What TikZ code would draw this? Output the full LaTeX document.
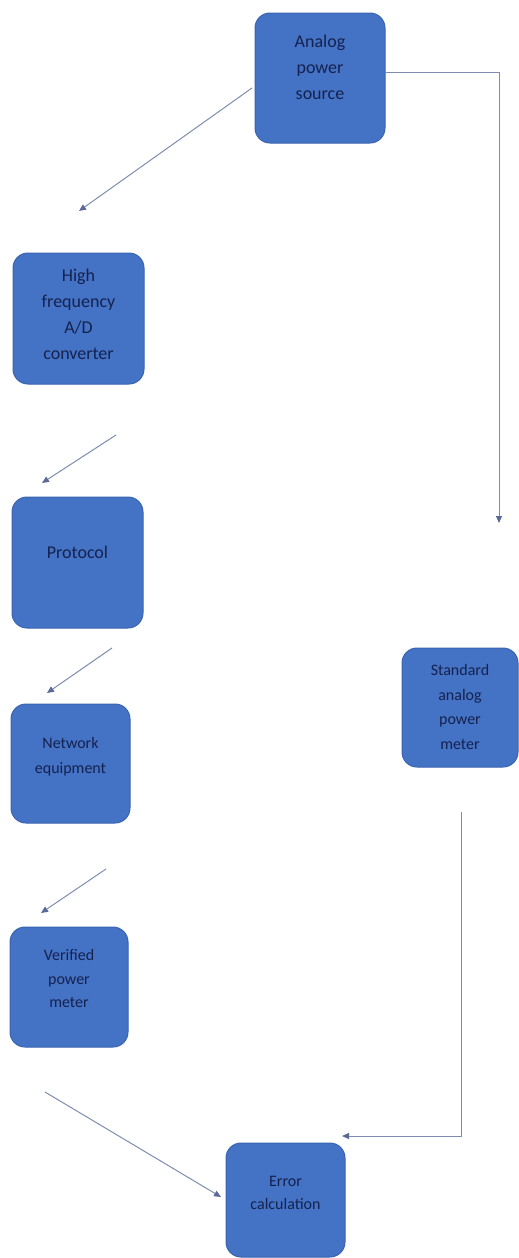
\documentclass[tikz,border=0pt]{standalone}
\usepackage{fontspec}
\setmainfont{Carlito}
\usetikzlibrary{arrows.meta}
\definecolor{boxfill}{HTML}{4472C4}
\definecolor{boxline}{HTML}{3A64B0}
\definecolor{txt}{HTML}{15224F}
\definecolor{conn}{HTML}{7E8DAE}
\definecolor{tipc}{HTML}{5A6898}
\tikzset{
  blk/.style={draw=boxline, line width=1pt, fill=boxfill, rounded corners=15pt, inner sep=0pt},
  lbl/.style={text=txt, align=center, inner sep=0pt, anchor=north},
  conn/.style={draw=conn, line width=1pt, -{Triangle[length=7pt,width=6pt,fill=tipc,color=tipc]}}
}
\begin{document}
\begin{tikzpicture}[x=1pt,y=-1pt]
\useasboundingbox (0,0) rectangle (519,1258);
% boxes
\node[blk, minimum width=130pt, minimum height=130pt] (aps) at (320,78) {};
\node[blk, minimum width=131pt, minimum height=131pt] (adc) at (78.5,318.5) {};
\node[blk, minimum width=131pt, minimum height=131pt] (pro) at (77.5,562.5) {};
\node[blk, minimum width=119pt, minimum height=119pt] (net) at (70.5,763.5) {};
\node[blk, minimum width=116pt, minimum height=119pt] (sap) at (460,707.5) {};
\node[blk, minimum width=118pt, minimum height=120pt] (vpm) at (69,987) {};
\node[blk, minimum width=119pt, minimum height=114pt] (err) at (285.5,1200) {};
% labels
\node[lbl, font=\fontsize{18}{26}\selectfont] (taps) at ([yshift=-22pt]aps.north) {Analog\\power\\source};
\node[lbl, font=\fontsize{18}{26}\selectfont] (tadc) at ([yshift=-16pt]adc.north) {High\\frequency\\A/D\\converter};
\node[lbl, font=\fontsize{18}{26}\selectfont] (tpro) at ([yshift=-49pt]pro.north) {Protocol};
\node[lbl, font=\fontsize{16}{25}\selectfont] (tnet) at ([yshift=-34pt]net.north) {Network\\equipment};
\node[lbl, font=\fontsize{16}{24.5}\selectfont] (tsap) at ([yshift=-17pt]sap.north) {Standard\\analog\\power\\meter};
\node[lbl, font=\fontsize{16}{23.5}\selectfont] (tvpm) at ([yshift=-23pt]vpm.north) {Verified\\power\\meter};
\node[lbl, font=\fontsize{16}{23}\selectfont] (terr) at ([yshift=-34pt]err.north) {Error\\calculation};
% connector end points
\coordinate (c1s) at (252,88);  \coordinate (c1e) at (79,211);
\coordinate (c2s) at (116,435); \coordinate (c2e) at (42,483);
\coordinate (c3s) at (112,648); \coordinate (c3e) at (47,693);
\coordinate (c4s) at (106,869); \coordinate (c4e) at (41,913);
\coordinate (c5s) at (45,1092); \coordinate (c5e) at (221,1197);
\coordinate (r1s) at (385,72);  \coordinate (r1e) at (499,523);
\coordinate (r2s) at (461,812); \coordinate (r2e) at (342,1136);
% connectors
\draw[conn] (c1s) -- (c1e);
\draw[conn] (c2s) -- (c2e);
\draw[conn] (c3s) -- (c3e);
\draw[conn] (c4s) -- (c4e);
\draw[conn] (c5s) -- (c5e);
\draw[conn] (r1s) -| (r1e);
\draw[conn] (r2s) |- (r2e);
\end{tikzpicture}
\end{document}
